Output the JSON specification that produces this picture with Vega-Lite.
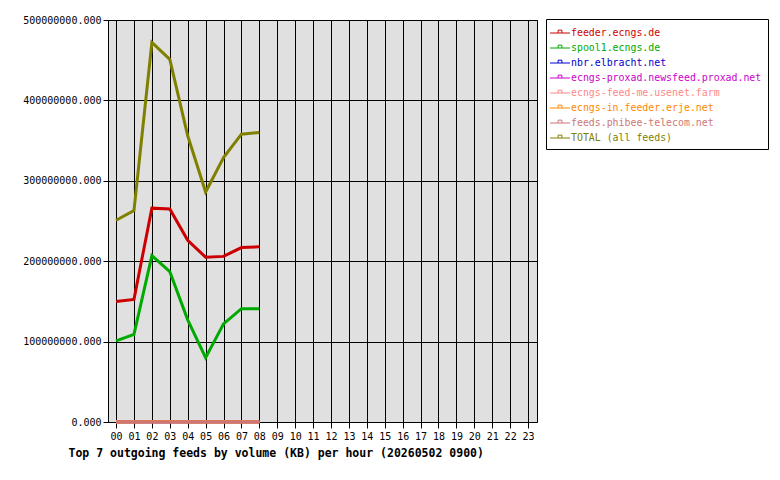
{
  "$schema": "https://vega.github.io/schema/vega-lite/v6.json",
  "width": 429,
  "height": 402,
  "autosize": {"type": "none"},
  "padding": {"left": 108, "top": 20, "right": 243, "bottom": 58},
  "background": "white",
  "config": {
    "font": "DejaVu Sans Mono",
    "view": {"fill": "#e0e0e0", "stroke": "black", "strokeWidth": 1}
  },
  "data": {"values": [
    {"hour": 0, "feed": "feeder.ecngs.de", "kb": 150000000},
    {"hour": 1, "feed": "feeder.ecngs.de", "kb": 152500000},
    {"hour": 2, "feed": "feeder.ecngs.de", "kb": 266000000},
    {"hour": 3, "feed": "feeder.ecngs.de", "kb": 265000000},
    {"hour": 4, "feed": "feeder.ecngs.de", "kb": 226000000},
    {"hour": 5, "feed": "feeder.ecngs.de", "kb": 205000000},
    {"hour": 6, "feed": "feeder.ecngs.de", "kb": 206000000},
    {"hour": 7, "feed": "feeder.ecngs.de", "kb": 217000000},
    {"hour": 8, "feed": "feeder.ecngs.de", "kb": 218000000},
    {"hour": 0, "feed": "spool1.ecngs.de", "kb": 101000000},
    {"hour": 1, "feed": "spool1.ecngs.de", "kb": 109000000},
    {"hour": 2, "feed": "spool1.ecngs.de", "kb": 207000000},
    {"hour": 3, "feed": "spool1.ecngs.de", "kb": 187000000},
    {"hour": 4, "feed": "spool1.ecngs.de", "kb": 127000000},
    {"hour": 5, "feed": "spool1.ecngs.de", "kb": 80000000},
    {"hour": 6, "feed": "spool1.ecngs.de", "kb": 122000000},
    {"hour": 7, "feed": "spool1.ecngs.de", "kb": 141000000},
    {"hour": 8, "feed": "spool1.ecngs.de", "kb": 141000000},
    {"hour": 0, "feed": "nbr.elbracht.net", "kb": 300000},
    {"hour": 1, "feed": "nbr.elbracht.net", "kb": 300000},
    {"hour": 2, "feed": "nbr.elbracht.net", "kb": 400000},
    {"hour": 3, "feed": "nbr.elbracht.net", "kb": 400000},
    {"hour": 4, "feed": "nbr.elbracht.net", "kb": 300000},
    {"hour": 5, "feed": "nbr.elbracht.net", "kb": 300000},
    {"hour": 6, "feed": "nbr.elbracht.net", "kb": 300000},
    {"hour": 7, "feed": "nbr.elbracht.net", "kb": 300000},
    {"hour": 8, "feed": "nbr.elbracht.net", "kb": 300000},
    {"hour": 0, "feed": "ecngs-proxad.newsfeed.proxad.net", "kb": 250000},
    {"hour": 1, "feed": "ecngs-proxad.newsfeed.proxad.net", "kb": 250000},
    {"hour": 2, "feed": "ecngs-proxad.newsfeed.proxad.net", "kb": 300000},
    {"hour": 3, "feed": "ecngs-proxad.newsfeed.proxad.net", "kb": 300000},
    {"hour": 4, "feed": "ecngs-proxad.newsfeed.proxad.net", "kb": 250000},
    {"hour": 5, "feed": "ecngs-proxad.newsfeed.proxad.net", "kb": 250000},
    {"hour": 6, "feed": "ecngs-proxad.newsfeed.proxad.net", "kb": 250000},
    {"hour": 7, "feed": "ecngs-proxad.newsfeed.proxad.net", "kb": 250000},
    {"hour": 8, "feed": "ecngs-proxad.newsfeed.proxad.net", "kb": 250000},
    {"hour": 0, "feed": "ecngs-feed-me.usenet.farm", "kb": 200000},
    {"hour": 1, "feed": "ecngs-feed-me.usenet.farm", "kb": 200000},
    {"hour": 2, "feed": "ecngs-feed-me.usenet.farm", "kb": 250000},
    {"hour": 3, "feed": "ecngs-feed-me.usenet.farm", "kb": 250000},
    {"hour": 4, "feed": "ecngs-feed-me.usenet.farm", "kb": 200000},
    {"hour": 5, "feed": "ecngs-feed-me.usenet.farm", "kb": 200000},
    {"hour": 6, "feed": "ecngs-feed-me.usenet.farm", "kb": 200000},
    {"hour": 7, "feed": "ecngs-feed-me.usenet.farm", "kb": 200000},
    {"hour": 8, "feed": "ecngs-feed-me.usenet.farm", "kb": 200000},
    {"hour": 0, "feed": "ecngs-in.feeder.erje.net", "kb": 150000},
    {"hour": 1, "feed": "ecngs-in.feeder.erje.net", "kb": 150000},
    {"hour": 2, "feed": "ecngs-in.feeder.erje.net", "kb": 200000},
    {"hour": 3, "feed": "ecngs-in.feeder.erje.net", "kb": 200000},
    {"hour": 4, "feed": "ecngs-in.feeder.erje.net", "kb": 150000},
    {"hour": 5, "feed": "ecngs-in.feeder.erje.net", "kb": 150000},
    {"hour": 6, "feed": "ecngs-in.feeder.erje.net", "kb": 150000},
    {"hour": 7, "feed": "ecngs-in.feeder.erje.net", "kb": 150000},
    {"hour": 8, "feed": "ecngs-in.feeder.erje.net", "kb": 150000},
    {"hour": 0, "feed": "feeds.phibee-telecom.net", "kb": 100000},
    {"hour": 1, "feed": "feeds.phibee-telecom.net", "kb": 100000},
    {"hour": 2, "feed": "feeds.phibee-telecom.net", "kb": 150000},
    {"hour": 3, "feed": "feeds.phibee-telecom.net", "kb": 150000},
    {"hour": 4, "feed": "feeds.phibee-telecom.net", "kb": 100000},
    {"hour": 5, "feed": "feeds.phibee-telecom.net", "kb": 100000},
    {"hour": 6, "feed": "feeds.phibee-telecom.net", "kb": 100000},
    {"hour": 7, "feed": "feeds.phibee-telecom.net", "kb": 100000},
    {"hour": 8, "feed": "feeds.phibee-telecom.net", "kb": 100000},
    {"hour": 0, "feed": "TOTAL (all feeds)", "kb": 251000000},
    {"hour": 1, "feed": "TOTAL (all feeds)", "kb": 263000000},
    {"hour": 2, "feed": "TOTAL (all feeds)", "kb": 472000000},
    {"hour": 3, "feed": "TOTAL (all feeds)", "kb": 451000000},
    {"hour": 4, "feed": "TOTAL (all feeds)", "kb": 356000000},
    {"hour": 5, "feed": "TOTAL (all feeds)", "kb": 286000000},
    {"hour": 6, "feed": "TOTAL (all feeds)", "kb": 329000000},
    {"hour": 7, "feed": "TOTAL (all feeds)", "kb": 358000000},
    {"hour": 8, "feed": "TOTAL (all feeds)", "kb": 360000000}
  ]},
  "mark": {"type": "line", "strokeWidth": 3, "strokeJoin": "miter", "interpolate": "linear"},
  "encoding": {
    "x": {
      "field": "hour", "type": "quantitative",
      "scale": {"domain": [-0.45, 23.5], "nice": false, "zero": false},
      "axis": {
        "values": [0,1,2,3,4,5,6,7,8,9,10,11,12,13,14,15,16,17,18,19,20,21,22,23],
        "format": "02d",
        "grid": true, "gridColor": "black", "gridOpacity": 1, "gridWidth": 1,
        "domain": false,
        "tickColor": "black", "tickSize": 6, "tickWidth": 1,
        "labelFont": "DejaVu Sans Mono", "labelFontSize": 10, "labelColor": "black",
        "labelPadding": 3, "labelFlush": false, "labelOverlap": false,
        "title": "Top 7 outgoing feeds by volume (KB) per hour (20260502 0900)",
        "titleFont": "DejaVu Sans Mono", "titleFontSize": 11.5, "titleFontWeight": "bold",
        "titleColor": "black", "titleAnchor": "start", "titleAlign": "left",
        "titleX": -40, "titleY": 34, "titleBaseline": "alphabetic"
      }
    },
    "y": {
      "field": "kb", "type": "quantitative",
      "scale": {"domain": [0, 500000000], "nice": false},
      "axis": {
        "values": [0, 100000000, 200000000, 300000000, 400000000, 500000000],
        "format": ".3f",
        "grid": true, "gridColor": "black", "gridOpacity": 1, "gridWidth": 1,
        "domain": false,
        "tickColor": "black", "tickSize": 5, "tickWidth": 1,
        "labelFont": "DejaVu Sans Mono", "labelFontSize": 10, "labelColor": "black",
        "labelPadding": 2, "labelFlush": false, "labelOverlap": false,
        "title": null
      }
    },
    "color": {
      "field": "feed", "type": "nominal",
      "scale": {
        "domain": ["feeder.ecngs.de", "spool1.ecngs.de", "nbr.elbracht.net", "ecngs-proxad.newsfeed.proxad.net", "ecngs-feed-me.usenet.farm", "ecngs-in.feeder.erje.net", "feeds.phibee-telecom.net", "TOTAL (all feeds)"],
        "range": ["#cc0000", "#00aa00", "#0000cc", "#cc00cc", "#ff8888", "#ff8800", "#cc7777", "#808000"]
      },
      "legend": {
        "title": null,
        "orient": "none",
        "legendX": 438,
        "legendY": -1,
        "fillColor": "white",
        "strokeColor": "black",
        "padding": 6,
        "rowPadding": 2,
        "symbolType": "M-1.333,0H1.333M-0.25,0V-0.38H0.25V0",
        "symbolSize": 225,
        "symbolStrokeWidth": 1,
        "symbolFillColor": "transparent",
        "symbolOffset": 0,
        "labelFont": "DejaVu Sans Mono",
        "labelFontSize": 9.9,
        "labelOffset": 3,
        "labelLimit": 300,
        "columnPadding": 0,
        "encode": {
          "labels": {"update": {"fill": {"scale": "color", "field": "value"}}},
          "symbols": {"update": {"fill": {"value": "transparent"}}}
        }
      }
    }
  }
}
